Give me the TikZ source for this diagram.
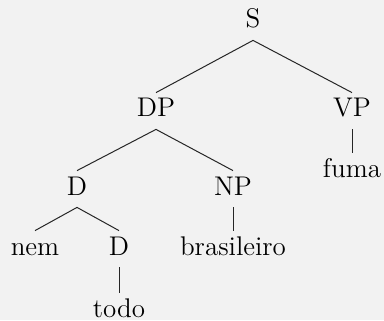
\documentclass[tikz,border=0pt]{standalone}
\usetikzlibrary{positioning}
\definecolor{bgpaper}{HTML}{F2F2F2}

\begin{document}
\begin{tikzpicture}[
  x=0.5pt, y=-0.5pt,
  every node/.style={font=\fontsize{13.5}{16}\selectfont},
  cat/.style={inner sep=0pt, anchor=base, text height=12pt, text depth=6pt},
  branch/.style={line width=0.5pt, draw=black!85},
]

% ── Fond ─────────────────────────────────────────────────────────────
\fill[bgpaper] (0,0) rectangle (384,320);
\useasboundingbox (0,0) rectangle (384,320);

% ── Catégories ───────────────────────────────────────────────────────
\node[cat] (s)    at (253,  28) {S};
\node[cat] (dp)   at (156, 117) {DP};
\node[cat] (vp)   at (352, 117) {VP};
\node[cat] (d)    at ( 77, 195) {D};
\node[cat] (np)   at (233, 195) {NP};
\node[cat] (dtwo) at (119, 255) {D};

% ── Mots ─────────────────────────────────────────────────────────────
\node[cat] (fuma) at (352, 177) {fuma};
\node[cat] (nem)  at ( 35, 255) {nem};
\node[cat] (bras) at (233, 255) {brasileiro};
\node[cat] (todo) at (119, 317) {todo};

% ── Branches ─────────────────────────────────────────────────────────
\draw[branch] (s.south)    -- (dp.north);
\draw[branch] (s.south)    -- (vp.north);
\draw[branch] (dp.south)   -- (d.north);
\draw[branch] (dp.south)   -- (np.north);
\draw[branch] (vp.south)   -- (fuma.north);
\draw[branch] (d.south)    -- (nem.north);
\draw[branch] (d.south)    -- (dtwo.north);
\draw[branch] (np.south)   -- (bras.north);
\draw[branch] (dtwo.south) -- (todo.north);

\end{tikzpicture}
\end{document}
